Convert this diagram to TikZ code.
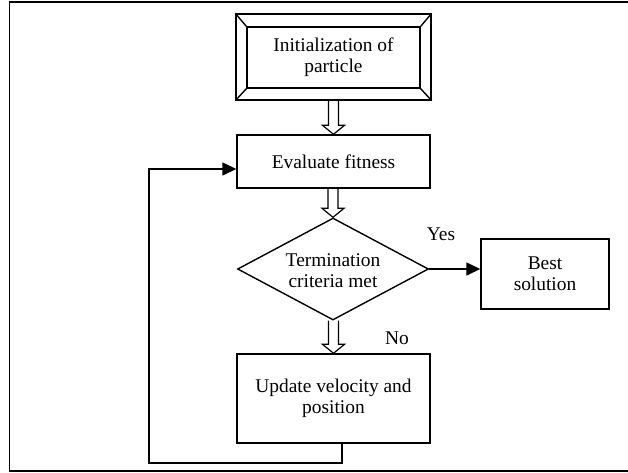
\documentclass[tikz,border=0pt]{standalone}
\usepackage{fontspec}
\setmainfont{Liberation Serif}
\usetikzlibrary{shapes.geometric,arrows.meta,calc}
\newcommand{\blkarrow}[2]{%
  \draw[blk] ($(#2 |- #1)+(-5,0)$) -- ($(#2)+(-5,-9)$) -- ($(#2)+(-11,-9)$) -- (#2)
    -- ($(#2)+(11,-9)$) -- ($(#2)+(5,-9)$) -- ($(#2 |- #1)+(5,0)$);}
\begin{document}
\begin{tikzpicture}[x=1pt,y=-1pt, line width=1.4pt,
  font=\fontsize{19.4}{21}\selectfont,
  box/.style={draw, rectangle, inner sep=0pt, align=center},
  lbl/.style={inner sep=0pt},
  conn/.style={-{Triangle[length=14pt,width=13pt]}},
  blk/.style={draw, line width=1.2pt, line join=miter}]
\clip (0,0) rectangle (628,472);
\useasboundingbox (0,0) rectangle (628,472);
\draw[line width=1.7pt] (9.5,2) rectangle (640,471);

% initialization (double bevelled box)
\node[box, minimum width=195pt, minimum height=86pt] (init) at (333.5,57) {};
\node[box, minimum width=173pt, minimum height=61pt] (initin) at (333.5,57.5) {Initialization of\\particle};
\draw (init.north west) -- (initin.north west);
\draw (init.north east) -- (initin.north east);
\draw (init.south west) -- (initin.south west);
\draw (init.south east) -- (initin.south east);

\node[box, minimum width=193pt, minimum height=53pt] (eval) at (333.5,161.5) {Evaluate fitness};
\node[draw, shape=diamond, minimum width=191pt, minimum height=102pt, inner sep=0pt] (dia) at (333,269) {};
\node[lbl, align=center] (diatext) at (333,271) {Termination\\criteria met};
\node[box, minimum width=128pt, minimum height=70pt] (best) at (545,274) {Best\\solution};
\node[box, minimum width=193pt, minimum height=89pt] (upd) at (333.5,398.5) {Update velocity and\\position};

\node[lbl] (yes) at (441,234) {Yes};
\node[lbl] (no) at (397,338) {No};

\blkarrow{init.south}{eval.north}
\blkarrow{eval.south}{dia.north}
\blkarrow{dia.south}{upd.north}

\draw[conn] (dia.east) -- (dia.east -| best.west);

\coordinate (lc) at (149,463);
\draw[conn] ($(upd.south)+(8.5,0)$) |- (lc) |- ($(eval.west)+(0,7.5)$);
\end{tikzpicture}
\end{document}
